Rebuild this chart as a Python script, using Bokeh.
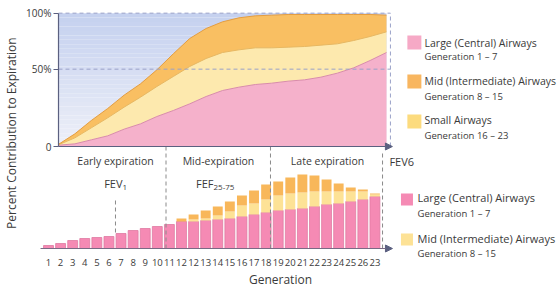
import math
from bokeh.plotting import figure
from bokeh.models import (ColumnDataSource, Range1d, LinearAxis, FixedTicker,
                          Arrow, NormalHead)
from bokeh.transform import stack
from bokeh.core.properties import value
from bokeh.embed import file_html
from bokeh.resources import INLINE

# ---------------- top chart data (percent of expired volume, stacked) ----------
time_pct = [0, 5, 10, 15, 20, 25, 30, 35, 40, 45, 50, 55, 60, 65, 70, 75, 80, 85, 90, 95, 100]
large_airways = [1, 2, 5, 8, 13, 17, 22.5, 27, 32, 37.5, 42, 44.5, 46.5, 47.5, 49, 50, 52, 55, 59, 64.5, 70.5]
small_airways = [0.3, 4.5, 9, 13.5, 16.5, 20, 22.5, 25.5, 28, 28.5, 28.5, 28, 27.5, 26.5, 25.5, 25, 24, 22, 20.5, 18, 15.5]
mid_airways = [0.3, 3, 5.5, 7, 9, 10, 12.5, 17, 21, 22.5, 23, 24, 24, 24.5, 24.5, 24, 23, 22, 19.5, 16.5, 12.5]
y_ticks = [0, 58, 100]
y_tick_labels = ["0", "50%", "100%"]

# ---------------- bottom chart data (per generation bar) ----------------------
gen_labels = ["1", "2", "3", "4", "5", "6", "7", "8", "9", "10", "11", "12", "12",
              "13", "14", "15", "16", "17", "18", "19", "20", "21", "22", "23",
              "24", "25", "26", "23"]
bar_large = [3, 5, 8, 10, 11, 12, 15, 18, 20, 22, 24, 27, 27, 28, 29, 30, 32, 34,
             36, 38, 39, 40, 42, 44, 45, 47, 49, 52]
bar_mid = [0, 0, 0, 0, 0, 0, 0, 0, 0, 0, 0, 0, 2, 2, 4, 7, 11, 11, 13, 15, 16, 16,
           15, 13, 12, 10, 8, 2]
bar_small = [0, 0, 0, 0, 0, 0, 0, 0, 0, 0, 0, 3, 5, 8, 9, 10, 10, 13, 15, 14, 16,
             18, 16, 12, 8, 4, 2, 1]

phase_names = ["Early expiration", "Mid-expiration", "Late expiration"]
top_legend_titles = ["Large (Central) Airways", "Mid (Intermediate) Airways", "Small Airways"]
top_legend_subs = ["Generation 1 \u2013 7", "Generation 8 \u2013 15", "Generation 16 \u2013 23"]
bottom_legend_titles = ["Large (Central) Airways", "Mid (Intermediate) Airways"]
bottom_legend_subs = ["Generation 1 \u2013 7", "Generation 8 \u2013 15"]

# ---------------- styles ----------------
FONT = "Open Sans"
TXT = "#3a3a3a"
AX = "#5b6080"
PINK_A, YEL_A, ORA_A = "#f5b1cb", "#fde9ae", "#f9bf62"
PINK_L, YEL_L, ORA_L = "#d98bab", "#e8b860", "#e39d42"
PINK_B, YEL_B, ORA_B = "#f58ab4", "#fde296", "#f8b75a"

p = figure(width=560, height=288, output_backend="svg", toolbar_location=None,
           x_range=Range1d(-17.683, 153.05), y_range=Range1d(-106.5, 109.5),
           x_axis_type=None, y_axis_type=None, min_border=0,
           outline_line_color=None, background_fill_color="white")
p.extra_x_ranges = {"bx": Range1d(-2.970, 43.349)}
p.extra_y_ranges = {"by": Range1d(-40, 248)}

# background gradient of the upper chart
n = 30
g_bottom = [i * 100 / n for i in range(n)]
g_top = [(i + 1) * 100 / n for i in range(n)]
c0, c1 = (238, 240, 248), (196, 208, 239)
g_col = []
for i in range(n):
    f = (i + 0.5) / n
    r, g, b = (round(c0[k] + (c1[k] - c0[k]) * f) for k in range(3))
    g_col.append("#%02x%02x%02x" % (r, g, b))
p.quad(left=0, right=100, bottom=g_bottom, top=g_top, fill_color=g_col, line_color=None)

# stacked areas
src = ColumnDataSource(dict(t=time_pct, large=large_airways, small=small_airways, mid=mid_airways))
p.varea_stack(["large", "small", "mid"], x="t", color=[PINK_A, YEL_A, ORA_A], source=src)
p.line(x="t", y=stack("large"), source=src, line_color=PINK_L, line_width=1)
p.line(x="t", y=stack("large", "small"), source=src, line_color=YEL_L, line_width=1)
p.line(x="t", y=stack("large", "small", "mid"), source=src, line_color=ORA_L, line_width=1)

# dashed reference lines at 50% / 100%
p.segment(x0=0, x1=101.2, y0=y_ticks[1:], y1=y_ticks[1:], line_color="#9aa2c8",
          line_dash="4 3", line_width=1)
p.segment(x0=101.2, x1=101.2, y0=0, y1=100, line_color="#9aa2c8", line_dash="4 3", line_width=1)

# left axis of the upper chart
yax = LinearAxis(fixed_location=0, bounds=(0, 100), ticker=FixedTicker(ticks=y_ticks),
                 major_label_overrides={t: l for t, l in zip(y_ticks, y_tick_labels)},
                 axis_line_color=AX, axis_line_width=1.2,
                 major_tick_line_color=AX, major_tick_in=0, major_tick_out=5,
                 minor_tick_line_color=None, major_label_standoff=2,
                 major_label_text_font=FONT, major_label_text_font_size="10px",
                 major_label_text_color=TXT)
p.add_layout(yax, "left")
p.add_layout(Arrow(end=NormalHead(size=7, fill_color=AX, line_color=AX),
                   x_start=0, y_start=0, x_end=101.8, y_end=0,
                   line_color=AX, line_width=1.2))

# bars
bsrc = ColumnDataSource(dict(g=list(range(1, 29)), large=bar_large, mid=bar_mid, small=bar_small))
p.vbar_stack(["large", "mid", "small"], x="g", width=0.82, source=bsrc,
             fill_color=[PINK_B, YEL_B, ORA_B],
             line_color=["#e07aa2", None, None], line_width=0.8,
             x_range_name="bx", y_range_name="by")

xax = LinearAxis(x_range_name="bx", y_range_name="by", fixed_location=0,
                 ticker=FixedTicker(ticks=list(range(1, 29))),
                 major_label_overrides={i + 1: l for i, l in enumerate(gen_labels)},
                 axis_line_color=None, major_tick_line_color=None,
                 minor_tick_line_color=None, major_label_standoff=4,
                 major_label_text_font=FONT, major_label_text_font_size="9.5px",
                 major_label_text_color=TXT,
                 axis_label="Generation", axis_label_standoff=2,
                 axis_label_text_font=FONT, axis_label_text_font_size="12px",
                 axis_label_text_font_style="normal", axis_label_text_color=TXT)
p.add_layout(xax, "below")
p.add_layout(Arrow(end=NormalHead(size=7, fill_color=AX, line_color=AX),
                   x_start=0.34, y_start=0, x_end=29.45, y_end=0,
                   line_color="#7a6a85", line_width=1.2,
                   x_range_name="bx", y_range_name="by"))

# phase dividers and markers
p.segment(x0=[10.72, 19.36], x1=[10.72, 19.36], y0=0, y1=102, line_color="#8a8a8a",
          line_dash="4 3", line_width=1, x_range_name="bx", y_range_name="by")
p.segment(x0=28.63, x1=28.63, y0=0, y1=98, line_color="#8a8a8a",
          line_dash="4 3", line_width=1, x_range_name="bx", y_range_name="by")
p.segment(x0=6.54, x1=6.54, y0=16, y1=50, line_color="#8a8a8a",
          line_dash="4 3", line_width=1, x_range_name="bx", y_range_name="by")

tkw = dict(text_font=value(FONT), text_color=TXT, text_baseline="middle",
           x_range_name="bx", y_range_name="by")
p.text(x=[6.54, 15.06, 24.08], y=88, text=phase_names, text_align="center",
       text_font_size="10.5px", **tkw)
p.text(x=[7.12, 14.65], y=65, text=["FEV", "FEF"], text_align="right",
       text_font_size="11px", **tkw)
p.text(x=[7.12, 14.65], y=65, text=["1", "25-75"], text_align="left", y_offset=4,
       text_font_size="8px", **tkw)
p.text(x=[29.2], y=87, text=["FEV6"], text_align="left", text_font_size="11px", **tkw)

# bottom legend
p.scatter(x=30.65, y=[49, 9], marker="square", size=12, fill_color=[PINK_B, YEL_B],
          line_color=None, x_range_name="bx", y_range_name="by")
p.text(x=31.52, y=[51, 10], text=bottom_legend_titles, text_align="left",
       text_font_size="11px", **tkw)
p.text(x=31.52, y=[35, -5], text=bottom_legend_subs, text_align="left",
       text_font_size="9.5px", **tkw)

# top legend
ttkw = dict(text_font=value(FONT), text_color=TXT, text_baseline="middle")
p.scatter(x=108.5, y=[78, 48.75, 18.75], marker="square", size=14,
          fill_color=["#f6a9c6", "#f8b660", "#fcdb7e"], line_color=None)
p.text(x=111.6, y=[78, 49.5, 20.25], text=top_legend_titles, text_align="left",
       text_font_size="10.5px", **ttkw)
p.text(x=111.6, y=[67.5, 37.5, 8.25], text=top_legend_subs, text_align="left",
       text_font_size="9.5px", **ttkw)

# shared y label
p.text(x=[-14.3], y=[10], text=["Percent Contribution to Expiration"], angle=math.pi / 2,
       text_align="center", text_font_size="12px", **ttkw)

open("out.html", "w").write(file_html(p, INLINE))
